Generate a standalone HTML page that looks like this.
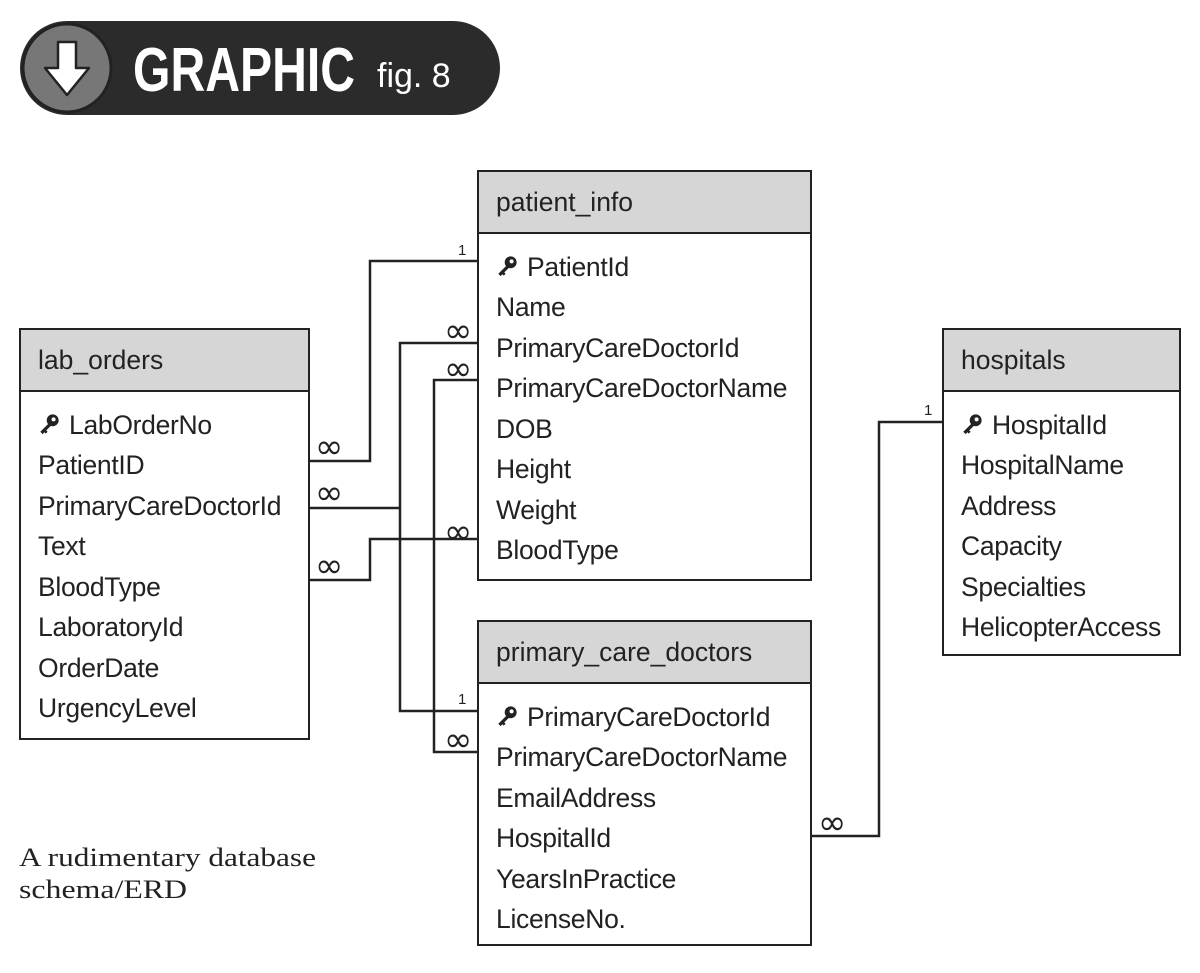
<!DOCTYPE html>
<html><head><meta charset="utf-8"><style>
body{margin:0;width:1200px;height:973px;background:#fff;position:relative;overflow:hidden;font-family:"Liberation Sans",sans-serif;color:#222}
.box{position:absolute;border:2px solid #222;background:#fff;box-sizing:border-box}
.hd{background:#d6d6d6;border-bottom:2px solid #222;height:62px;box-sizing:border-box;font-size:26.5px;padding-left:17px;line-height:60px}
.row{position:absolute;left:17px;font-size:26.5px;line-height:30px;white-space:nowrap;letter-spacing:-0.3px}
.k{display:inline-block;width:31px;height:22px;vertical-align:-1px}
</style></head><body>
<svg width="0" height="0" style="position:absolute"><defs>
<symbol id="key" viewBox="0 0 24 24"><circle cx="16" cy="8" r="6.5" fill="#222"/><circle cx="17" cy="7" r="2.2" fill="#fff"/><path d="M12 11 L2.5 20.5 L5 23 L7 21 L8.5 22.5 L10.5 20.5 L9 19 L14 14 Z" fill="#222"/></symbol>
</defs></svg>
<svg width="1200" height="973" style="position:absolute;left:0;top:0">
<rect x="20" y="21" width="480" height="94" rx="47" fill="#2b2b2b"/>
<circle cx="67" cy="68" r="44" fill="#777" stroke="#222" stroke-width="3"/>
<path d="M58 42 H76 V68 H89 L67 95 L45 68 H58 Z" fill="#fff" stroke="#222" stroke-width="2.5" stroke-linejoin="round"/>
<text x="133" y="91" fill="#fff" font-family="Liberation Sans" font-weight="bold" font-size="62" textLength="222" lengthAdjust="spacingAndGlyphs">GRAPHIC</text>
<text x="377" y="87" fill="#fff" font-family="Liberation Sans" font-size="34">fig. 8</text>
<g fill="none" stroke="#222" stroke-width="2.5">
<polyline points="477,261 370,261 370,461 310,461"/>
<polyline points="477,343 400,343 400,711 477,711"/>
<polyline points="310,508 400,508"/>
<polyline points="477,380 434,380 434,752 477,752"/>
<polyline points="477,539 370,539 370,580 310,580"/>
<polyline points="811,836 879,836 879,422 942,422"/>
</g>
<g font-family="DejaVu Sans" font-size="34" fill="#222">
<text x="315" y="458">∞</text><text x="315" y="504">∞</text><text x="315" y="577">∞</text>
<text x="444" y="342">∞</text><text x="444" y="380">∞</text><text x="444" y="543">∞</text><text x="444" y="751">∞</text>
<text x="818" y="834">∞</text>
</g>
<g font-family="Liberation Sans" font-size="15" fill="#222">
<text x="458" y="255">1</text><text x="458" y="704">1</text><text x="924" y="415">1</text>
</g>
<text x="19" y="866" font-family="Liberation Serif" font-size="26" fill="#222" textLength="297" lengthAdjust="spacingAndGlyphs">A rudimentary database</text>
<text x="19" y="898" font-family="Liberation Serif" font-size="26" fill="#222" textLength="168" lengthAdjust="spacingAndGlyphs">schema/ERD</text>
</svg>

<div class="box" style="left:477px;top:170px;width:335px;height:411px"><div class="hd">patient_info</div>
<div class="row" style="top:80px"><svg class="k"><use href="#key" width="22" height="22"/></svg>PatientId</div>
<div class="row" style="top:120px">Name</div>
<div class="row" style="top:161px">PrimaryCareDoctorId</div>
<div class="row" style="top:201px">PrimaryCareDoctorName</div>
<div class="row" style="top:242px">DOB</div>
<div class="row" style="top:282px">Height</div>
<div class="row" style="top:323px">Weight</div>
<div class="row" style="top:363px">BloodType</div>
</div>

<div class="box" style="left:19px;top:328px;width:291px;height:412px"><div class="hd">lab_orders</div>
<div class="row" style="top:80px"><svg class="k"><use href="#key" width="22" height="22"/></svg>LabOrderNo</div>
<div class="row" style="top:120px">PatientID</div>
<div class="row" style="top:161px">PrimaryCareDoctorId</div>
<div class="row" style="top:201px">Text</div>
<div class="row" style="top:242px">BloodType</div>
<div class="row" style="top:282px">LaboratoryId</div>
<div class="row" style="top:323px">OrderDate</div>
<div class="row" style="top:363px">UrgencyLevel</div>
</div>

<div class="box" style="left:942px;top:328px;width:239px;height:328px"><div class="hd">hospitals</div>
<div class="row" style="top:80px"><svg class="k"><use href="#key" width="22" height="22"/></svg>HospitalId</div>
<div class="row" style="top:120px">HospitalName</div>
<div class="row" style="top:161px">Address</div>
<div class="row" style="top:201px">Capacity</div>
<div class="row" style="top:242px">Specialties</div>
<div class="row" style="top:282px">HelicopterAccess</div>
</div>

<div class="box" style="left:477px;top:620px;width:335px;height:326px"><div class="hd">primary_care_doctors</div>
<div class="row" style="top:80px"><svg class="k"><use href="#key" width="22" height="22"/></svg>PrimaryCareDoctorId</div>
<div class="row" style="top:120px">PrimaryCareDoctorName</div>
<div class="row" style="top:161px">EmailAddress</div>
<div class="row" style="top:201px">HospitalId</div>
<div class="row" style="top:242px">YearsInPractice</div>
<div class="row" style="top:282px">LicenseNo.</div>
</div>
</body></html>
